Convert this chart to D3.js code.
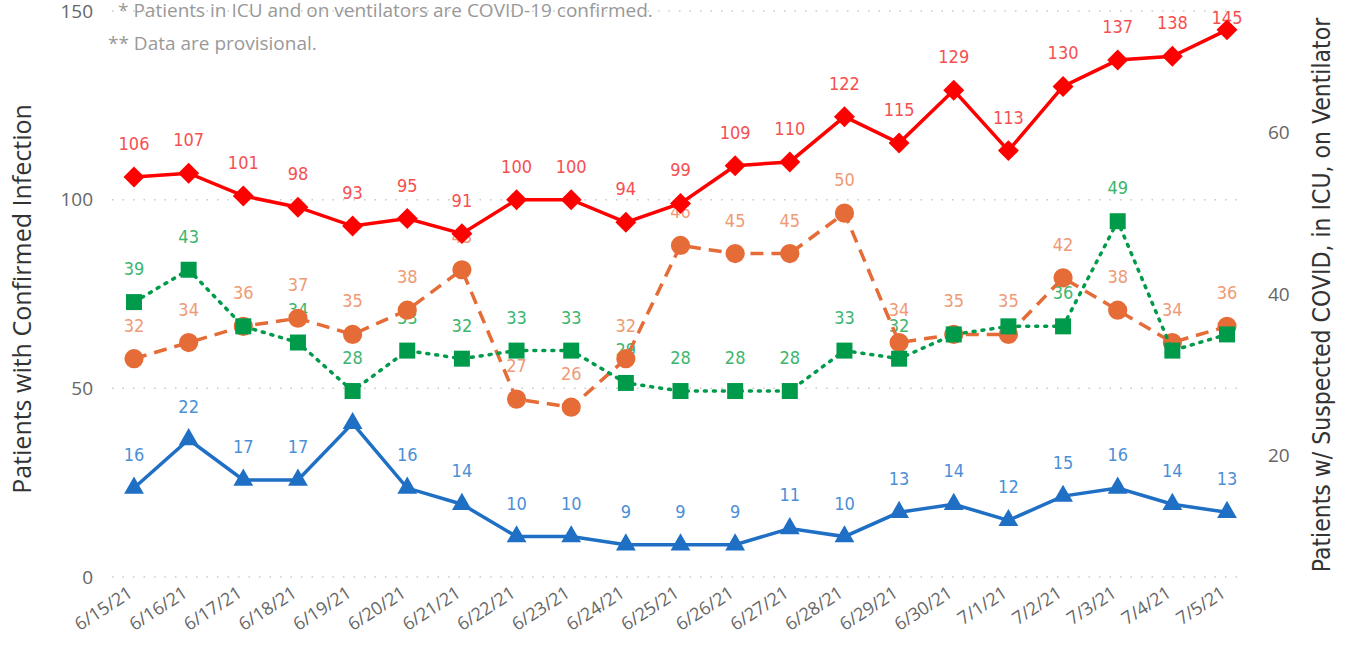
<!DOCTYPE html>
<html>
<head>
  <style>
    body{
      margin:0;
      background:#fff;
      font-family: "Open Sans", sans-serif;
    }
    .tick-label{
      fill:#666;
      font-size:19px;
    }
    .x-label{
      fill:#666;
      font-size:18px;
    }
    .note{
      fill:#999;
      font-size:19px;
    }
    .narrow{
      font-family: "DejaVu Sans Condensed", "DejaVu Sans", sans-serif;
      font-stretch: condensed;
    }
    .data-label{
      font-size:18px;
    }
  </style>
  <script src="https://d3js.org/d3.v7.min.js"></script>
</head>
<body>
<div class="chart"></div>
<script>
const dates = ['6/15/21','6/16/21','6/17/21','6/18/21','6/19/21','6/20/21','6/21/21','6/22/21','6/23/21','6/24/21','6/25/21','6/26/21','6/27/21','6/28/21','6/29/21','6/30/21','7/1/21','7/2/21','7/3/21','7/4/21','7/5/21'];
const confirmed = [106,107,101,98,93,95,91,100,100,94,99,109,110,122,115,129,113,130,137,138,145];
const icu = [32,34,36,37,35,38,43,27,26,32,46,45,45,50,34,35,35,42,38,34,36];
const ventilator = [39,43,36,34,28,33,32,33,33,29,28,28,28,33,32,35,36,36,49,33,35];
const suspected = [16,22,17,17,24,16,14,10,10,9,9,9,11,10,13,14,12,15,16,14,13];
// labels that the original chart drops because they collide
const hiddenLabels = {suspected:[4], ventilator:[2,15,16,19,20]};
const leftTicks = [0,50,100,150];
const rightTicks = [20,40,60];

const width = 1348, height = 646;
const svg = d3.select('.chart').append('svg')
  .attr('width', width)
  .attr('height', height);

const x = d3.scalePoint().domain(dates).range([134, 1227]);
const yLeft = d3.scaleLinear().domain([0,150]).range([577, 11]);
const yRight = d3.scaleLinear().domain([5,75]).range([577, 11]);

// gridlines
svg.append('g').selectAll('line')
  .data(leftTicks)
  .join('line')
  .attr('x1', 112).attr('x2', 1243)
  .attr('y1', d=>yLeft(d)).attr('y2', d=>yLeft(d))
  .attr('stroke', '#c8c8c8')
  .attr('stroke-width', 1.5)
  .attr('stroke-dasharray', '1.5 9');

// left ticks
svg.append('g').selectAll('text')
  .data(leftTicks)
  .join('text')
  .attr('class', 'tick-label')
  .attr('x', 93)
  .attr('y', d=>yLeft(d))
  .attr('dy', '0.35em')
  .attr('text-anchor', 'end')
  .text(d=>d);

// right ticks
svg.append('g').selectAll('text')
  .data(rightTicks)
  .join('text')
  .attr('class', 'tick-label')
  .attr('x', 1268)
  .attr('y', d=>yRight(d))
  .attr('dy', '0.35em')
  .text(d=>d);

// x labels
svg.append('g').selectAll('text')
  .data(dates)
  .join('text')
  .attr('class', 'x-label')
  .attr('text-anchor', 'end')
  .attr('transform', d=>`translate(${x(d)},${596}) rotate(-33)`)
  .text(d=>d);

// axis titles
svg.append('text')
  .attr('transform', 'translate(31,299) rotate(-90)')
  .attr('text-anchor', 'middle')
  .attr('fill', '#333')
  .attr('font-size', '25px')
  .text('Patients with Confirmed Infection');

svg.append('text')
  .attr('class', 'narrow')
  .attr('transform', 'translate(1330,295) rotate(-90)')
  .attr('text-anchor', 'middle')
  .attr('fill', '#333')
  .attr('font-size', '24.5px')
  .text('Patients w/ Suspected COVID, in ICU, on Ventilator');

// notes
svg.append('text').attr('class','note').attr('x', 118).attr('y', 17)
  .text('* Patients in ICU and on ventilators are COVID-19 confirmed.');
svg.append('text').attr('class','note').attr('x', 108).attr('y', 50)
  .text('** Data are provisional.');

const diamond = {draw(ctx, size){ const r = Math.sqrt(size/2); ctx.moveTo(0,-r); ctx.lineTo(r,0); ctx.lineTo(0,r); ctx.lineTo(-r,0); ctx.closePath(); }};

const series = [
  {key:'icu', values:icu, y:yRight, color:'#E66C37', label:'#EF9A76', dash:'13 8', cap:'butt', symbol:d3.symbolCircle, size:290},
  {key:'ventilator', values:ventilator, y:yRight, color:'#009A4B', label:'#3DB56F', dash:'2 7', cap:'round', symbol:d3.symbolSquare, size:256},
  {key:'suspected', values:suspected, y:yRight, color:'#1F6FC5', label:'#4B8FD6', dash:null, cap:'round', symbol:d3.symbolTriangle, size:170},
  {key:'confirmed', values:confirmed, y:yLeft, color:'#FF0000', label:'#F55050', dash:null, cap:'round', symbol:diamond, size:220}
];

// labels sit below the lines
const labelLayer = svg.append('g');
const lineLayer = svg.append('g');

series.forEach(s=>{
  const hidden = hiddenLabels[s.key] || [];
  labelLayer.append('g').selectAll('text')
    .data(s.values.map((v,i)=>({v,i})).filter(d=>!hidden.includes(d.i)))
    .join('text')
    .attr('class', 'data-label narrow')
    .attr('fill', s.label)
    .attr('text-anchor', 'middle')
    .attr('x', d=>x(dates[d.i]))
    .attr('y', d=>Math.max(24, s.y(d.v) - 27))
    .text(d=>d.v);

  const line = d3.line()
    .x((d,i)=>x(dates[i]))
    .y(d=>s.y(d));

  lineLayer.append('path')
    .datum(s.values)
    .attr('d', line)
    .attr('fill', 'none')
    .attr('stroke', s.color)
    .attr('stroke-width', 3.5)
    .attr('stroke-linecap', s.cap)
    .attr('stroke-dasharray', s.dash);

  const sym = d3.symbol().type(s.symbol).size(s.size);
  lineLayer.append('g').selectAll('path')
    .data(s.values)
    .join('path')
    .attr('d', sym)
    .attr('transform', (d,i)=>`translate(${x(dates[i])},${s.y(d)})`)
    .attr('fill', s.color);
});
</script>
</body>
</html>
